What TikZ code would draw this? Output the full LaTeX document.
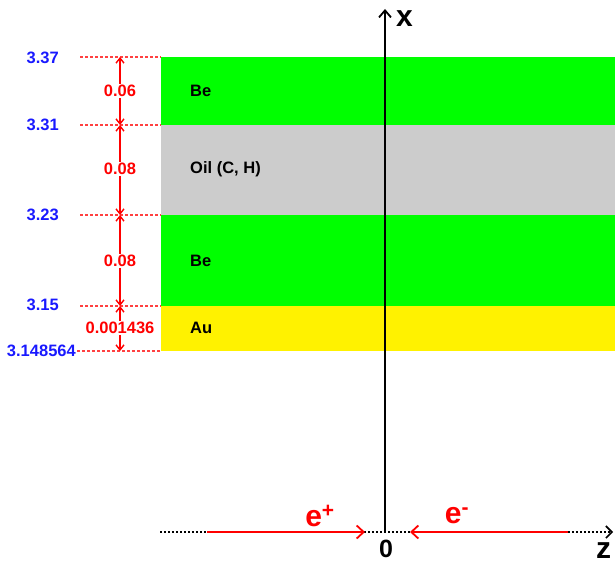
\documentclass[tikz,border=0pt]{standalone}
\usepackage{fontspec}
\setmainfont{Liberation Sans}
\usetikzlibrary{arrows.meta}
\begin{document}
\begin{tikzpicture}[x=1pt,y=-1pt,
  lbl/.style={font=\bfseries\fontsize{16.5}{16.5}\selectfont, inner sep=0pt},
  bluelbl/.style={lbl, text=blue!90!white, anchor=east},
  redlbl/.style={lbl, text=red, fill=white, inner sep=1.5pt},
  layerlbl/.style={lbl, anchor=west},
  guide/.style={red!75!white, dash pattern=on 3pt off 2pt, line width=1.4pt},
  dim/.style={red, line width=1.8pt, -{Straight Barb[length=5pt,width=8pt,line width=1.4pt]}},
  beam/.style={red, line width=2.4pt, -{Straight Barb[length=7pt,width=13pt,line width=1.8pt]}},
  axislbl/.style={font=\bfseries\fontsize{30}{30}\selectfont, inner sep=0pt}
]
\useasboundingbox (0,0) rectangle (615,564);
% layers
\fill[green] (161,57) rectangle (615,125);
\fill[black!20] (161,125) rectangle (615,215);
\fill[green] (161,215) rectangle (615,306);
\fill[yellow] (161,306) rectangle (615,351);
\node[layerlbl] (be1) at (190,91) {Be};
\node[layerlbl] (oil) at (190,169) {Oil (C, H)};
\node[layerlbl] (be2) at (190,261) {Be};
\node[layerlbl] (au) at (190,328) {Au};
% boundary coordinates
\coordinate (d1) at (120,57);
\coordinate (d2) at (120,125);
\coordinate (d3) at (120,215);
\coordinate (d4) at (120,306);
\coordinate (d5) at (120,351);
% guides
\draw[guide] (80,57) -- (161,57);
\draw[guide] (80,125) -- (161,125);
\draw[guide] (80,215) -- (161,215);
\draw[guide] (80,306) -- (161,306);
\draw[guide] (77,351) -- (161,351);
% blue values
\node[bluelbl] (v1) at (59,58) {3.37};
\node[bluelbl] (v2) at (59,125) {3.31};
\node[bluelbl] (v3) at (59,215) {3.23};
\node[bluelbl] (v4) at (59,305) {3.15};
\node[bluelbl] (v5) at (76,351) {3.148564};
% dimension arrows
\draw[dim] (120,91) -- (d1);
\draw[dim] (120,91) -- (d2);
\draw[dim] (120,169) -- (d2);
\draw[dim] (120,169) -- (d3);
\draw[dim] (120,261) -- (d3);
\draw[dim] (120,261) -- (d4);
\draw[dim] (120,328) -- (d4);
\draw[dim] (120,328) -- (d5);
\node[redlbl] (t1) at (120,91) {0.06};
\node[redlbl] (t2) at (120,169) {0.08};
\node[redlbl] (t3) at (120,261) {0.08};
\node[redlbl] (t4) at (120,328) {0.001436};
% axes
\coordinate (o) at (385,532);
\coordinate (xtop) at (385,9);
\coordinate (zl) at (160,532);
\coordinate (zr) at (613,532);
\draw[black, line width=1.8pt, dash pattern=on 2pt off 2pt, -{Straight Barb[length=6pt,width=12pt,line width=1.6pt]}] (zl) -- (zr);
\draw[black, line width=2.8pt, -{Straight Barb[length=7pt,width=12pt,line width=1.8pt]}] (o) -- (xtop);
\node[axislbl, anchor=west] (xl) at (396,19) {x};
\node[axislbl, anchor=west] (zlab) at (596,551) {z};
\node[axislbl, font=\bfseries\fontsize{25}{25}\selectfont] (zero) at (386,549) {0};
% beams
\coordinate (pstart) at (207,532);
\coordinate (pend) at (365,532);
\coordinate (mstart) at (568,532);
\coordinate (mend) at (410,532);
\draw[beam] (pstart) -- (pend);
\draw[beam] (mstart) -- (mend);
\node[axislbl, text=red] (ep) at (320,516) {e\textsuperscript{+}};
\node[axislbl, text=red] (em) at (457,516) {e\textsuperscript{-}};
\end{tikzpicture}
\end{document}
